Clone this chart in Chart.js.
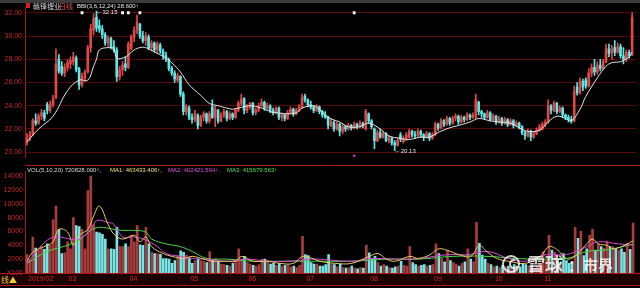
<!DOCTYPE html>
<html>
<head>
<meta charset="utf-8">
<script src="https://cdn.jsdelivr.net/npm/chart.js@4.4.1/dist/chart.umd.min.js"></script>
<style>
  html, body { margin: 0; padding: 0; background: #000; overflow: hidden; }
  #wrap { position: relative; width: 640px; height: 288px; background: #000; }
  #topbar { position: absolute; left: 0; top: 0; width: 640px; height: 3px; background: #3c3c3c; }
  canvas { position: absolute; left: 0; }
  #priceChart { top: 0; }
  #volChart { top: 165px; }
</style>
</head>
<body>
<div id="wrap">
  <canvas id="priceChart" width="640" height="165"></canvas>
  <canvas id="volChart" width="640" height="123"></canvas>
  <div id="topbar"></div>
</div>
<script>
// daily candles, Feb - Dec 2019 (price in yuan, volume in x100 shares)
const openP = [
  20.8,21.2,21.5,22.7,22.5,23.1,23.4,24.1,23.6,24.1,
  24.7,28.0,27.4,26.8,27.3,27.6,27.8,28.1,27.2,25.8,
  26.4,26.9,29.0,30.5,31.6,30.9,30.6,30.1,29.4,29.8,
  29.1,28.8,26.5,27.1,27.6,27.3,28.9,29.9,30.5,31.0,
  30.0,29.6,29.9,29.0,29.4,28.8,29.2,28.7,28.3,28.0,
  27.2,26.8,26.2,26.5,25.0,23.5,23.8,23.0,22.8,23.2,
  22.3,23.0,23.3,22.7,23.9,23.0,23.6,22.7,23.2,23.5,
  22.9,23.3,23.0,23.6,24.2,24.6,23.6,23.9,24.2,23.4,
  23.6,24.0,24.3,23.8,24.0,23.6,23.4,23.8,23.0,23.2,
  22.9,23.4,23.7,23.3,23.6,23.9,24.8,24.5,24.1,23.9,
  23.6,23.9,23.5,23.2,23.0,22.3,22.6,22.0,22.4,21.8,
  22.2,22.0,22.3,22.1,22.4,22.2,22.5,22.0,23.3,22.7,
  22.0,21.0,21.7,21.3,21.6,21.0,21.2,20.8,20.6,21.5,
  20.9,21.2,21.3,21.8,21.5,21.4,21.8,21.5,21.3,21.6,
  21.2,21.5,22.4,22.1,22.7,22.4,22.9,22.5,22.9,23.1,
  22.6,23.0,22.8,23.2,23.0,23.0,24.3,23.5,23.3,23.0,
  23.4,22.8,23.1,22.6,22.9,22.5,22.8,22.4,22.7,22.3,
  22.5,22.2,21.7,21.4,21.8,21.3,21.6,21.9,22.0,22.4,
  22.6,24.0,23.6,24.2,23.5,23.8,23.2,23.0,22.8,22.7,
  25.6,25.1,26.1,26.2,25.7,26.8,27.3,26.9,27.5,27.2,
  27.8,28.9,28.5,29.0,28.6,29.1,28.3,28.0,28.6,28.4
];
const highP = [
  21.6,21.8,22.9,23.3,23.3,23.7,23.6,24.3,24.4,24.9,
  28.9,28.4,27.8,27.6,28.0,28.2,28.6,28.3,27.3,26.8,
  27.1,29.2,31.0,31.9,32.15,31.4,30.9,30.3,30.0,29.9,
  29.6,29.0,27.4,27.8,28.2,29.5,30.1,30.8,31.8,31.1,
  30.4,30.3,30.1,29.6,29.5,29.5,29.4,28.9,28.6,28.1,
  27.4,27.0,26.8,26.6,25.2,24.1,24.0,23.3,23.6,23.3,
  23.2,23.5,23.4,23.5,24.5,24.0,23.7,23.4,23.7,23.6,
  23.5,23.4,23.8,24.4,25.0,24.7,24.1,24.3,24.3,23.8,
  24.2,24.6,24.4,24.2,24.1,23.8,23.9,23.9,23.4,23.3,
  23.6,23.9,23.8,23.8,24.1,25.0,25.0,24.6,24.4,24.0,
  24.1,24.0,23.6,23.5,23.1,22.9,22.7,22.6,22.5,22.4,
  22.3,22.5,22.4,22.6,22.5,22.7,22.6,23.7,23.4,22.8,
  22.1,21.9,22.0,21.8,21.7,21.4,21.3,21.0,21.2,21.7,
  21.4,21.7,22.0,21.9,21.8,22.0,21.9,21.6,21.8,21.7,
  21.7,22.6,22.5,22.9,22.8,23.1,23.0,23.1,23.3,23.2,
  23.2,23.1,23.4,23.3,23.4,25.0,24.4,23.6,23.4,23.6,
  23.5,23.3,23.2,23.1,23.0,23.0,22.9,22.9,22.8,22.7,
  22.6,22.3,21.8,22.0,21.9,21.8,22.1,22.4,22.6,22.8,
  24.5,24.1,24.4,24.3,24.0,23.9,23.3,23.2,23.1,25.7,
  26.0,26.4,26.3,26.4,27.2,27.6,28.0,27.8,28.0,28.0,
  29.3,29.3,29.2,29.6,29.4,29.3,29.0,28.8,28.8,32.0
];
const lowP = [
  20.6,21.0,21.4,22.3,22.4,22.8,22.7,23.3,23.4,23.9,
  24.6,26.8,26.6,26.5,27.0,27.2,27.5,26.9,25.4,25.6,
  26.1,26.8,28.6,30.1,30.4,30.3,29.8,29.2,29.1,28.9,
  28.6,26.1,26.2,26.6,27.0,27.2,28.8,29.5,30.2,29.8,
  29.4,29.2,28.8,28.7,28.6,28.5,28.5,28.0,27.8,27.0,
  26.6,26.0,26.0,24.8,23.2,23.2,22.8,22.5,22.6,22.0,
  22.2,22.7,22.5,22.5,22.9,22.2,22.5,22.6,23.0,22.7,
  22.8,22.8,22.9,23.5,24.0,23.3,23.4,23.7,23.2,23.2,
  23.5,23.9,23.6,23.6,23.4,23.2,23.3,22.8,22.7,22.7,
  22.8,23.3,23.1,23.2,23.5,23.8,24.3,23.9,23.7,23.4,
  23.5,23.3,23.0,22.9,22.0,22.2,21.8,21.9,21.4,21.6,
  21.8,21.9,21.9,22.0,22.0,22.1,22.1,21.9,22.5,22.0,
  20.3,20.9,21.2,21.2,20.9,20.8,20.6,20.13,20.5,20.9,
  20.8,21.0,21.2,21.3,21.2,21.3,21.3,21.0,21.2,21.0,
  21.1,21.4,21.9,22.0,22.2,22.3,22.3,22.4,22.7,22.4,
  22.5,22.6,22.7,22.8,22.9,22.9,23.2,23.0,22.8,22.9,
  22.7,22.7,22.4,22.5,22.3,22.4,22.2,22.3,22.1,22.2,
  22.0,21.5,21.1,21.3,21.0,21.2,21.5,21.8,21.9,22.2,
  22.5,23.3,23.5,23.3,23.4,23.0,22.8,22.6,22.5,22.6,
  24.9,25.0,25.3,25.5,25.6,26.5,26.6,26.7,27.0,27.1,
  27.7,28.2,28.0,28.3,28.5,28.1,27.6,27.8,28.1,28.3
];
const closeP = [
  21.2,21.5,22.7,22.5,23.1,23.4,22.9,23.6,24.1,24.6,
  27.6,27.0,26.8,27.3,27.7,27.9,28.2,27.1,25.8,26.5,
  26.9,29.0,30.6,31.5,30.7,30.6,30.1,29.4,29.8,29.1,
  28.8,26.5,27.1,27.5,27.3,29.3,29.9,30.5,31.2,30.0,
  29.6,30.0,29.0,29.4,28.8,29.3,28.7,28.3,28.0,27.2,
  26.8,26.3,26.6,25.0,23.5,23.9,23.0,22.8,23.3,22.3,
  23.0,23.3,22.7,23.3,23.0,23.7,22.7,23.2,23.5,22.9,
  23.3,23.0,23.6,24.2,24.6,23.6,23.9,24.2,23.4,23.6,
  24.0,24.3,23.8,24.0,23.6,23.4,23.8,23.0,23.2,22.9,
  23.4,23.7,23.3,23.6,23.9,24.7,24.5,24.1,23.9,23.6,
  23.9,23.5,23.2,23.0,22.3,22.6,22.0,22.4,21.8,22.2,
  22.0,22.3,22.1,22.4,22.2,22.5,22.3,23.5,22.7,22.2,
  21.0,21.7,21.3,21.6,21.0,21.2,20.8,20.6,21.0,21.1,
  21.2,21.5,21.8,21.5,21.4,21.8,21.5,21.3,21.6,21.2,
  21.5,22.4,22.1,22.7,22.4,22.9,22.5,22.9,23.1,22.6,
  23.0,22.8,23.2,23.0,23.2,24.5,23.5,23.3,23.0,23.4,
  22.8,23.1,22.6,22.9,22.5,22.8,22.4,22.7,22.3,22.5,
  22.2,21.7,21.4,21.8,21.3,21.6,21.9,22.2,22.4,22.6,
  24.0,23.6,24.2,23.5,23.8,23.2,23.0,22.8,22.7,25.2,
  25.1,26.1,25.6,25.7,26.8,27.3,26.9,27.5,27.2,27.8,
  28.9,28.5,28.9,28.6,29.1,28.3,28.0,28.6,28.3,31.6
];
const volume = [
  2650,2000,5200,3600,3300,3800,3400,4200,4000,7700,
  9650,6300,2800,2900,4500,3500,8000,6850,6700,6300,
  3500,11900,14000,7000,5900,5800,5600,4900,3500,3500,
  3400,6600,3800,3800,4200,3800,5450,4500,6850,4050,
  4000,6600,4200,3000,2800,2800,2700,2100,2100,2000,
  1400,1800,2500,3200,3000,2600,2200,1400,1800,2000,
  1800,1700,1500,3100,1900,2100,1600,1300,1200,1100,
  1000,1400,1900,3500,2000,2400,1500,1300,1100,1000,
  1200,2000,2000,1800,1300,1400,1100,1400,1000,1100,
  1200,900,1000,800,1100,5300,2650,2500,1500,1300,
  1300,1000,1000,1200,2650,1300,1200,900,1300,800,
  700,800,1000,700,600,800,700,4000,2900,2100,
  2400,1500,1000,1200,1000,800,700,900,1000,1700,
  1100,1000,3800,1500,1200,1000,1100,1200,1000,1100,
  1200,4200,2800,2100,1600,3300,1800,1500,1300,1000,
  1400,1600,3500,2000,1600,7300,4300,2600,2000,1400,
  1200,900,1000,800,1100,900,1000,800,1200,700,
  900,1400,1200,1000,1100,700,900,1200,3100,1800,
  5450,3300,3000,1800,1500,2800,1800,1400,1600,6600,
  5000,6000,2500,3500,5450,6300,3300,4200,3800,3600,
  4600,3800,3800,3500,3300,3500,3000,4300,3400,7200
];

// BBI(3,6,12,24) line at candle positions
const bbiIdx = [0,4,9,14,18,21,23,24,25,28,30,31,34,37,39,41,45,48,50,53,56,60,63,66,69,71,73,77,81,84,86,90,93,95,99,101,104,108,111,115,118,122,125,129,132,136,139,142,146,149,153,156,160,163,167,170,173,177,180,183,186,188,191,193,197,200,202,205,208,209];
const bbiVal = [20.9,22.0,23.1,25.3,26.2,26.2,27.4,28.0,28.8,29.0,28.9,28.1,28.2,28.8,29.0,29.0,28.5,28.1,27.7,26.9,25.8,24.9,24.2,24.0,23.8,23.7,23.8,24.0,23.8,23.5,23.4,23.3,23.4,23.8,24.0,23.7,23.0,22.6,22.2,22.2,22.5,22.0,21.4,21.2,21.1,21.3,21.3,21.7,22.1,22.3,22.6,22.9,22.7,22.6,22.5,22.1,21.8,21.9,22.6,23.1,22.9,22.7,23.7,24.8,26.4,27.4,27.7,27.8,28.2,28.6];

// volume moving averages (x100)
const ma1Idx = [0,2,7,9,11,14,16,18,21,23,25,28,30,33,37,39,41,43,47,50,54,57,61,64,69,72,74,78,83,87,92,95,99,101,106,112,118,121,124,127,132,135,139,142,146,149,153,156,158,162,166,172,177,180,183,185,187,190,193,195,197,200,202,205,209];
const ma1Val = [1700,3000,4000,4500,6300,5900,4000,5450,6300,8250,9650,7000,5600,4900,5450,4500,5200,3800,2800,2400,2100,2400,2000,1700,1700,1700,2400,1700,1700,1400,1400,2400,2000,1700,1400,1400,2400,2800,2000,1700,2400,2100,2650,3500,3100,2650,2400,4000,3300,2100,1700,1400,2400,3800,3300,2400,2000,2800,4200,4900,4200,4000,3500,3800,4634];
const ma2Idx = [0,7,11,15,18,22,24,28,30,33,37,41,45,48,53,57,62,69,76,83,90,98,101,112,119,127,135,145,152,159,166,172,179,186,193,197,204,209];
const ma2Val = [1400,4750,5200,4900,4900,6300,7550,7300,7000,5200,5200,4750,3800,2800,2400,2100,2000,1700,2000,1700,1700,2000,2000,1700,2100,2000,2100,2650,2650,3100,2100,1700,2650,2650,3800,4500,4200,4024];
const ma3Idx = [0,7,14,18,22,25,30,33,37,41,43,48,53,57,62,69,78,87,98,101,112,124,135,147,159,168,177,186,193,200,209];
const ma3Val = [1400,3100,4000,4750,6150,6600,6300,6150,6150,5900,4900,4200,3800,3100,2100,2000,1700,1700,1700,1700,1700,2000,2000,2400,2400,2100,2000,2100,3100,3350,4157];

const monthNames = ['2019/02','03','04','05','06','07','08','09','10','11'];
const monthStart = [0,14,35,56,76,96,118,140,161,178];
const priceTicks = [20, 22, 24, 26, 28, 30, 32];
const volTicks = [0, 2000, 4000, 6000, 8000, 10000, 12000, 14000];
const eventIdx = [19, 33, 35, 39, 113];   // small white flags at the top

const RED = '#e04848';
const CYAN = '#5ce8e8';
const AXIS_RED = '#c82828';
const xMin = -0.69, xMax = 210.34;

// split candles into up (red) and down (cyan)
const upBody = [], downBody = [], upWick = [], downWick = [], upVol = [], downVol = [];
closeP.forEach((c, i) => {
  const o = openP[i];
  if (c >= o) {
    upBody.push({ x: i, y: [o, c] });
    upWick.push({ x: i, y: [lowP[i], highP[i]] });
    upVol.push({ x: i, y: volume[i] });
  } else {
    downBody.push({ x: i, y: [o, c] });
    downWick.push({ x: i, y: [lowP[i], highP[i]] });
    downVol.push({ x: i, y: volume[i] });
  }
});
const pts = (xs, ys) => xs.map((x, k) => ({ x, y: ys[k] }));

function fixWidth(scale) { scale.width = 25; }

const priceText = {
  id: 'priceText',
  afterDraw(chart) {
    const { ctx } = chart;
    const x = chart.scales.x, y = chart.scales.y;
    ctx.save();
    ctx.textBaseline = 'middle';
    ctx.fillStyle = '#d02020';
    ctx.fillRect(26, 3, 4, 5);
    ctx.font = '7px "Noto Sans CJK SC"';
    ctx.fillStyle = '#d8d8d8';
    ctx.fillText('赣锋锂业', 33, 6);
    ctx.fillStyle = '#e85050';
    ctx.fillText('日线', 59, 6);
    ctx.font = '6px "Liberation Sans"';
    ctx.fillStyle = '#e8e8e8';
    ctx.fillText('BBI(3,6,12,24) 28.600\u2191', 77, 6);
    // high / low marks
    const hi = highP.indexOf(Math.max(...highP));
    const lo = lowP.indexOf(Math.min(...lowP));
    ctx.fillText('\u2190' + highP[hi].toFixed(2), x.getPixelForValue(hi), y.getPixelForValue(highP[hi]) + 1);
    ctx.fillText('\u2190' + lowP[lo].toFixed(2), x.getPixelForValue(lo), y.getPixelForValue(lowP[lo]) + 1);
    ctx.restore();
  }
};

new Chart(document.getElementById('priceChart'), {
  type: 'bar',
  data: {
    datasets: [
      { type: 'line', data: pts(bbiIdx, bbiVal), borderColor: '#e6e6e6', borderWidth: 1, pointRadius: 0, tension: 0.4, order: 0 },
      { type: 'scatter', data: eventIdx.slice(0, 4).map(i => ({ x: i, y: 32.0 })), pointStyle: 'rect', radius: 2, backgroundColor: '#ffffff', borderWidth: 0, order: 0 },
      { type: 'scatter', data: [{ x: eventIdx[4], y: 32.0 }], pointStyle: 'rect', radius: 2, backgroundColor: '#ffffff', borderWidth: 0, order: 0 },
      { type: 'scatter', data: [{ x: eventIdx[4], y: 19.7 }], pointStyle: 'rect', radius: 1.5, backgroundColor: '#e040e0', borderWidth: 0, order: 0, clip: false },
      { data: upBody, backgroundColor: RED, barThickness: 2, grouped: false, minBarLength: 1, order: 1 },
      { data: downBody, backgroundColor: CYAN, barThickness: 2, grouped: false, minBarLength: 1, order: 1 },
      { data: upWick, backgroundColor: RED, barThickness: 1, grouped: false, order: 2 },
      { data: downWick, backgroundColor: CYAN, barThickness: 1, grouped: false, order: 2 }
    ]
  },
  options: {
    responsive: false,
    animation: false,
    events: [],
    layout: { padding: { left: 0, right: 3, top: 4, bottom: 0 } },
    plugins: { legend: { display: false }, tooltip: { enabled: false } },
    scales: {
      x: { type: 'linear', min: xMin, max: xMax, offset: false, display: false },
      y: {
        min: 19.52, max: 32.48,
        afterFit: fixWidth,
        afterBuildTicks: s => { s.ticks = priceTicks.map(v => ({ value: v })); },
        ticks: { color: AXIS_RED, font: { size: 7, family: 'Liberation Sans' }, padding: 3, callback: v => v.toFixed(2) },
        grid: { color: '#5a0808', drawTicks: false },
        border: { color: '#b01818' }
      }
    }
  },
  plugins: [priceText]
});

const volText = {
  id: 'volText',
  beforeDraw(chart) {
    const { ctx } = chart;
    ctx.save();
    ctx.fillStyle = '#1c0000';
    ctx.fillRect(0, 108, 640, 12);
    ctx.restore();
  },
  afterDraw(chart) {
    const { ctx } = chart;
    const x = chart.scales.x;
    ctx.save();
    ctx.strokeStyle = '#b01818';
    ctx.lineWidth = 1;
    ctx.beginPath();
    ctx.moveTo(25, 0.5); ctx.lineTo(640, 0.5);
    ctx.moveTo(0, 108.5); ctx.lineTo(640, 108.5);
    ctx.moveTo(0, 120.5); ctx.lineTo(640, 120.5);
    ctx.stroke();

    ctx.textBaseline = 'middle';
    ctx.font = '6px "Liberation Sans"';
    const head = [
      ['VOL(5,10,20) 720828.000\u2191,', '#d8d8d8', 27],
      ['MA1: 463433.406\u2191,', '#e8e070', 110],
      ['MA2: 402421.594\u2191,', '#e050e0', 168],
      ['MA3: 415679.563\u2191', '#50e050', 227]
    ];
    head.forEach(([t, c, px]) => { ctx.fillStyle = c; ctx.fillText(t, px, 5); });

    ctx.font = '7px "Liberation Sans"';
    ctx.fillStyle = AXIS_RED;
    monthNames.forEach((m, k) => ctx.fillText(m, x.getPixelForValue(monthStart[k]) + 1, 114.5));
    ctx.font = '8px "Noto Sans CJK SC"';
    ctx.fillStyle = '#f0d020';
    ctx.fillText('线\u25B2', 1, 114.5);

    // watermark
    ctx.globalAlpha = 0.8;
    ctx.strokeStyle = '#ffffff';
    ctx.lineWidth = 2;
    ctx.beginPath(); ctx.arc(511, 99, 8, 0, Math.PI * 2); ctx.stroke();
    ctx.beginPath(); ctx.arc(514, 99, 4, 0.5, Math.PI * 1.6); ctx.stroke();
    ctx.fillStyle = '#ffffff';
    ctx.font = 'bold 18px "Noto Sans CJK SC"';
    ctx.fillText('雪球', 527, 99);
    ctx.font = 'bold 15px "Noto Sans CJK SC"';
    ctx.fillText('：市界', 568, 100);
    ctx.restore();
  }
};

new Chart(document.getElementById('volChart'), {
  type: 'bar',
  data: {
    datasets: [
      { type: 'line', data: pts(ma1Idx, ma1Val), borderColor: '#e8c860', borderWidth: 1, pointRadius: 0, tension: 0.4, order: 0 },
      { type: 'line', data: pts(ma2Idx, ma2Val), borderColor: '#d848d8', borderWidth: 1, pointRadius: 0, tension: 0.4, order: 0 },
      { type: 'line', data: pts(ma3Idx, ma3Val), borderColor: '#48d848', borderWidth: 1, pointRadius: 0, tension: 0.4, order: 0 },
      { data: upVol, backgroundColor: '#a83c3c', barThickness: 2, grouped: false, order: 1 },
      { data: downVol, backgroundColor: '#78e4e4', barThickness: 2, grouped: false, order: 1 }
    ]
  },
  options: {
    responsive: false,
    animation: false,
    events: [],
    layout: { padding: { left: 0, right: 3, top: 2, bottom: 15 } },
    plugins: { legend: { display: false }, tooltip: { enabled: false } },
    scales: {
      x: { type: 'linear', min: xMin, max: xMax, offset: false, display: false },
      y: {
        min: 0, max: 14700,
        afterFit: fixWidth,
        afterBuildTicks: s => { s.ticks = volTicks.map(v => ({ value: v })); },
        ticks: { color: AXIS_RED, font: { size: 7, family: 'Liberation Sans' }, padding: 2,
                 callback: v => (v === 0 ? 'X100' : String(v)) },
        grid: { display: false, drawTicks: false },
        border: { color: '#b01818' }
      }
    }
  },
  plugins: [volText]
});
</script>
</body>
</html>
